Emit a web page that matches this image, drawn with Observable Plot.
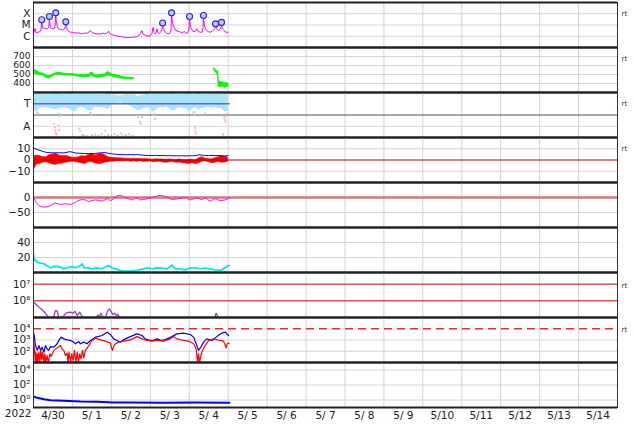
<!DOCTYPE html>
<html><head><meta charset="utf-8">
<script src="https://cdn.jsdelivr.net/npm/d3@7"></script>
<script src="https://cdn.jsdelivr.net/npm/@observablehq/plot@0.6"></script>
<style>
html,body{margin:0;padding:0;background:#fff;}
#chart{width:634px;height:424px;}
#chart svg{display:block;overflow:visible;}
</style></head><body><div id="chart"></div>
<script>
// ---- time axis: hours counted from 2022-04-30 00:00 UT ----
const startUTC = Date.UTC(2022, 3, 30);
const spanDays = 15;
const yearLabel = "2022";
const dataEndHour = 120.6;

// ---- Panel 1: GOES X-ray flux, in C-class units (1e-6 W/m2): [hour, flux] ----
const xrayReadings = [[0,1.6],[1,5],[1.5,2.2],[2,2.0],[3,2.3],[4,2.6],[4.7,4],[5.1,29],[5.5,6],[6,5],[7,5.5],[8,4.5],[9,5],[9.5,7],[9.8,57],[10.2,9],[11,5],[12,4.5],[13,5],[13.4,12],[13.7,120],[14,25],[14.5,10],[15,5.5],[16,4.2],[17,3.6],[18,3.8],[19,4.5],[19.6,7],[19.9,19],[20.3,6],[21,3.4],[22,2.6],[23,2.3],[24,2.2],[25,2.0],[26,2.1],[27,1.9],[28,2.0],[29,1.8],[30,1.7],[31,1.8],[32,2.0],[33,1.8],[34,2.2],[35,3.2],[36,2.4],[37,1.9],[38,1.7],[39,1.6],[40,1.6],[41,1.7],[42,1.6],[43,1.9],[44,1.6],[45,1.8],[46.3,2.8],[47,1.7],[48,1.4],[49,1.3],[50,1.2],[51,1.1],[52,1.0],[53,0.95],[54,0.9],[55,0.85],[56,0.8],[57,0.75],[58,0.8],[59,0.75],[60,0.8],[61,0.85],[62,0.8],[63,0.9],[64,1.0],[65,1.2],[66,1.8],[66.8,3.2],[67.5,1.6],[68,1.4],[69,1.2],[70,1.1],[71,1.0],[72,1.1],[73,1.8],[73.7,6.2],[74.3,2.2],[75,1.6],[75.6,2],[76.1,4.6],[76.6,2.2],[77.5,1.8],[78.5,2.5],[79.2,4],[79.6,15],[80,5],[81,2.6],[82,1.8],[83,1.6],[84,1.8],[84.8,4],[85.1,120],[85.5,25],[86,12],[87,5],[88,2.8],[88.4,3.5],[89,2.5],[90,2.6],[91,2.2],[92,2.0],[92.9,2.8],[94,1.8],[95,2.0],[95.8,4],[96.2,57],[96.6,10],[97,6],[98,3],[99,2.5],[100,3],[100.7,4.6],[101.3,3],[102,2.5],[103,2.2],[104,2.4],[104.5,6],[104.8,69],[105.2,12],[106,4.5],[107,3],[108,2.5],[109,2.3],[110,2.8],[111,3.5],[111.8,5],[112.2,12.6],[112.8,5],[113.5,4],[114,3.2],[115,4],[115.6,6],[115.9,17],[116.4,5],[117,4],[118,2.5],[119,2.2],[120,2.3]];
const flareHours = [5.1, 9.8, 13.7, 19.9, 79.6, 85.1, 96.2, 104.8, 112.2, 115.9];
const flareFlux  = [29, 57, 120, 19, 15, 120, 57, 69, 12.6, 17];
const xrayTicks = [1, 10, 100];
const xrayTickLabels = ["C", "M", "X"];

// ---- Panel 2: solar wind speed (km/s), envelope ----
const speedHours = [0,2,4,6,8,10,12,14,16,18,20,22,24,26,28,30,32,34,36,38,40,42,44,46,48,50,52,54,56,58,60,62,63,111.5,112,113,113.9,114.1,115,116,117,118,119,120];
const speedLo = [515,500,495,490,460,455,480,495,500,495,490,490,488,482,475,470,468,470,490,468,465,468,475,490,480,470,465,455,448,450,445,448,null,545,530,515,480,360,365,360,370,350,365,360];
const speedHi = [560,540,515,510,490,480,500,515,520,512,508,505,505,500,495,495,492,495,525,492,490,495,500,530,505,495,488,478,470,465,462,458,null,570,555,535,535,420,420,415,410,400,405,400];
const speedTicks = [400, 500, 600, 700];

// ---- Panel 3: IMF sector (angle, deg), 2-hourly envelope ----
const imfLo = [230,200,240,235,240,235,225,220,230,240,235,230,215,205,240,240,235,210,215,245,240,240,235,225,250,270,275,280,270,260,250,235,215,220,230,240,235,200,225,240,235,245,230,215,225,240,235,230,210,225,240,220,230,240,245,235,240,230,235,205,210];
const imfHi = [350,350,345,350,348,350,350,345,350,352,350,350,345,350,352,350,350,350,350,352,350,352,350,348,340,340,335,335,340,345,340,345,330,335,340,345,350,348,350,352,350,350,350,345,350,350,352,350,345,350,350,345,350,352,350,350,350,348,350,345,350];
const grayDots = [[2.3,200],[3,190],[15.6,190],[16,175],[35,200],[36,185],[30,20],[31,15],[33,12],[36,18],[38,22],[40,15],[42,25],[44,10],[46,20],[48,14],[50,28],[52,18],[54,32],[55,12],[57,20],[59,25],[61,15],[63.8,176],[64.5,160],[67,163],[74,176],[74.5,190],[98.7,203],[99.5,185],[105.8,189],[119.2,189],[118.6,170],[117,25]];
const pinkDots = [[12.8,110],[13.2,80],[13.5,55],[13.8,35],[14.2,25],[15.5,95],[15.8,60],[28.2,72],[28.8,50],[44.3,56],[65.8,125],[66.2,110],[75,149],[99.5,75],[99.8,50],[100.2,32],[117.5,160],[118,140],[118.5,125]];
const sectorTicks = [90, 270];
const sectorLabels = ["A", "T"];

// ---- Panel 4: IMF Bt and Bz (nT), 2-hourly ----
const bt = [10.5,9.5,8.5,7.5,6.8,6.5,6.4,6.4,6.5,6.3,6.6,7.4,7.0,6.2,6.0,5.9,5.7,5.8,5.6,5.8,6.2,6.4,6.6,6.0,5.6,5.2,5.0,4.8,4.7,4.7,4.8,4.6,4.8,4.5,4.2,4.1,4.0,4.0,4.1,3.9,4.0,3.8,3.9,3.7,3.8,3.7,3.8,3.6,3.8,3.7,3.9,4.6,4.3,4.0,4.0,4.1,3.9,4.0,3.8,3.6,3.9];
const bzLo = [-9.5,-4,-3.5,-2.5,-2,-3,-4,-4.3,-3.5,-3,-2.5,-2,-1.5,-1.8,-2.5,-3,-3.5,-2,-1.8,-3,-3.5,-3.5,-2.5,-2,-1.5,-1.5,-1,-1.2,-1.2,-0.8,-1.5,-1.2,-1.5,-1,-1.8,-1.5,-1.3,-2,-1.8,-1.5,-2.2,-2.5,-2,-1.8,-2.5,-2.2,-2.8,-3.2,-3.5,-2.8,-3.5,-3,-1.5,-1,-2,-2.8,-2.5,-1.8,-2.5,-2.2,-1.5];
const bzHi = [3,4,3.5,2.5,2.5,4.5,5,5.5,4,3.5,3.5,3,2,1.8,2.5,3.5,3,4.5,5.5,4,5,5.5,4.5,2.5,2,1.8,1.5,1.5,1.2,1.2,1,1.2,1,0.8,0.6,0.8,0.5,0.3,0.6,0.5,0.4,0.2,0.5,0.3,0,0.5,0,-0.3,0.2,0.3,-0.5,1.5,2.5,1.2,1,0.5,1.5,2.5,3.5,3,2];
const bTicks = [10, 0, -10];

// ---- Panel 5: Dst (nT) ----
const dstHours = [0,2.3,4.3,7.4,10.5,13.5,16.6,19.7,22.4,25.8,28.9,31,34,38.2,42.3,45.7,47.4,51.1,53.1,57.6,60.7,63.8,65.8,70,74,78.2,82.3,85.3,89.4,93.5,96.6,100.7,103.8,105.8,108.9,112,115.1,118.2,120.8];
const dstVals = [1,-21,-30,-32,-27,-19,-23,-21,-23,-16,-8,-7,-13,-8,-12,-4,-10,4,7,-2,-8,-1,-8,-4,1,7,1,-6,-4,1,-8,-1,-7,-1,-12,-4,-10,-8,-1];
const dstTicks = [0, -50];

// ---- Panel 6: solar wind density ----
const densHours = [0,0.4,1.2,2.3,4.3,6.4,8.4,10.5,12.5,14.6,16.6,18.7,20.7,23.8,25.8,28.9,29.9,31.4,34,36.1,39.2,42.3,44.9,46.4,48.4,51.1,53.5,56.6,59.7,63.8,66.9,69.9,73,76.1,79.2,82.3,85.3,87.4,90.5,93.5,96.6,99.7,102.8,105.8,108.9,112,115.1,117.1,119.2,120.6];
const densVals = [24,16,17,13.8,12.4,11.6,8.9,6.2,8,8,7.1,4.9,6.2,8,6.2,9.3,11.6,6.2,6.2,4.9,6.2,4.9,8,9.3,6.2,4.4,2.7,1.8,1.8,2.7,4.4,6.2,4.9,6.2,5.8,4.9,9.8,4.9,4.9,3.6,6.2,6.2,4.9,5.8,4.9,3.6,2.7,4.9,8,9.3];
const densTicks = [20, 40];

// ---- Panel 7: electron flux ----
const elecHours = [0,2.3,3.9,5.3,7.4,8.4,9.4,10.9,12.5,13.5,14.6,15.6,17.6,19.1,20.7,22.8,24.4,25.6,26.9,28.5,29.9,31.4,38.2,39.6,40.6,41.6,42.9,44.3,45.7,46.8,47.8,48.8,49.8,51.1,52.1,53.1,101.7,102.8,103.8,111.4,112.6,113.6,114.7,120.8];
const elecFlux = [8.3e5,5.2e5,3.8e5,2.9e5,1.8e5,1.3e5,1.05e5,8e4,1.15e5,2.6e5,2.5e5,1e5,8e4,1.5e5,2e5,2.1e5,1.8e5,2.4e5,1.3e5,2.1e5,1.2e5,8e4,8e4,1.4e5,1.15e5,1.8e5,9.5e4,9.5e4,2.6e5,3.3e5,2.4e5,1.5e5,1.8e5,1.3e5,1.6e5,8e4,8e4,1.1e5,8e4,8e4,1.8e5,1.1e5,8e4,8e4];
const elecTicks = [1e6, 1e7];

// ---- Panel 8: proton flux (blue, red) ----
const pBlueHours = [0,0.6,1.2,2.3,3.3,4.3,5.3,6.4,7.4,8.4,9.4,10.5,12.5,14.6,16.2,17,18.7,20.7,22.8,24.8,25.8,27.9,28.9,31,33,35.1,38.2,42.3,45.3,47.4,49.4,51.5,53.5,56.6,59.7,63.8,66.9,68.9,72,74.1,76.1,79.2,82.3,85.3,88.4,92.5,96.6,98.7,100.7,101.7,103.2,104.8,106.9,109.9,113,116.1,118.2,120.2];
const pBlueFlux = [5000,1800,320,120,320,120,230,83,320,160,120,260,230,460,1260,1800,1260,1020,910,650,460,740,460,650,460,910,1800,2500,5000,3100,1260,910,650,1260,2000,3500,2500,1260,910,910,1260,910,1260,2000,3500,4100,3100,1800,320,120,230,650,1260,910,2000,4100,5000,2500];
const pRedHours = [0,0.6,1,1.4,1.8,2.3,2.7,3.3,3.9,4.5,5.1,5.7,6.4,7,7.6,8.4,9.2,10.1,10.9,12.5,14.6,16.6,17.6,18.7,19.7,20.7,21.3,21.9,22.8,23.6,24.4,25.2,26.1,26.9,27.7,28.5,29.3,30.2,31,32,34.1,36.1,38.2,41.2,44.3,47.4,48.6,49.4,50.5,52.5,55.6,59.7,63.8,66.9,70,73,76.1,80.2,84.3,86.4,88.4,92.5,95.6,98.7,100.3,101.1,101.7,102.4,103.2,104.2,105.8,107.9,111,115.1,117.1,118.8,119.4,120.6];
const pRedFlux = [910,160,15,83,10,59,10,83,10,120,17,83,10,59,10,42,10,59,34,120,200,320,160,120,42,68,10,83,10,59,15,120,10,83,10,59,21,120,26,120,320,910,1450,1020,800,520,120,260,460,650,800,1020,2000,1260,910,800,910,800,1260,2000,1260,910,800,460,160,10,59,10,42,120,320,910,1260,910,800,200,460,520];
const protonTicks = [100, 1000, 10000];

// ---- Panel 9 ----
const p9Hours = [0,2.3,6.4,10.5,18.7,28.9,39.2,49.4,59.7,80.2,100.7,120.8];
const p9Vals = [2.9,1.95,1.3,0.95,0.78,0.63,0.57,0.47,0.47,0.42,0.45,0.42];
const p9Ticks = [1, 100, 10000];

// ================= drawing =================
const T = h => new Date(startUTC + h * 3600e3);
const xDomain = [T(0), T(spanDays * 24)];
const dayLines = d3.range(1, spanDays).map(d => T(d * 24));
const dayNoons = d3.range(0, spanDays).map(d => T(d * 24 + 12));
const fmtDay = d => `${d.getUTCMonth() + 1}/${String(d.getUTCDate()).padStart(2, " ")}`;
const sup = {"0":"⁰","1":"¹","2":"²","3":"³","4":"⁴","5":"⁵","6":"⁶","7":"⁷","8":"⁸","9":"⁹"};
const fmtPow = v => "10" + String(Math.round(Math.log10(v))).split("").map(c => sup[c]).join("");
const fmtSigned = v => v < 0 ? "\u2212" + Math.abs(v) : String(v);

const GRID = "#d4d4d4";

function panel({y, ticks, fmt, grid, marks, first = false, last = false, rt = null, tickFont = 10.5}) {
  const mt = first ? 2 : 0, mb = last ? 17 : 0;
  const [y0, y1] = y.domain;
  return Plot.plot({
    width: 634, height: 45 + mt + mb,
    marginLeft: 33, marginRight: 17, marginTop: mt, marginBottom: mb,
    style: {fontFamily: "'DejaVu Sans', sans-serif", fontSize: "10.5px", color: "#222", background: "transparent", overflow: "visible"},
    x: {type: "utc", domain: xDomain, axis: null},
    y: {...y, axis: null},
    marks: [
      Plot.gridX(dayLines, {stroke: GRID, strokeOpacity: 1}),
      grid && grid.length ? Plot.gridY(grid, {stroke: GRID, strokeOpacity: 1}) : null,
      ...marks,
      Plot.axisY(ticks, {tickFormat: fmt, tickSize: 0, tickPadding: 3, label: null, fontSize: tickFont}),
      last ? Plot.axisX(dayNoons, {tickFormat: fmtDay, tickSize: 0, tickPadding: 4, label: null}) : null,
      last ? Plot.text([yearLabel], {text: d => d, frameAnchor: "bottom-left", dx: -2, dy: 9, textAnchor: "end"}) : null,
      Plot.frame({stroke: "#333"}),
      Plot.ruleY([y0, y1], {stroke: "#222", strokeWidth: 2.2}),
      rt !== null ? Plot.text(["rt"], {text: d => d, frameAnchor: "top-right", dx: 4, dy: rt, textAnchor: "start", fontSize: 7, fill: "#333"}) : null
    ]
  });
}

const chart = document.getElementById("chart");

// 1 X-ray
chart.append(panel({
  first: true, rt: 9,
  y: {type: "log", domain: [0.1, 1000]},
  ticks: xrayTicks, fmt: d => xrayTickLabels[xrayTicks.indexOf(d)], grid: xrayTicks,
  marks: [
    Plot.line(xrayReadings, {x: d => T(d[0]), y: d => d[1], stroke: "#ff00ff", strokeWidth: 1, clip: true}),
    Plot.dot(flareHours, {x: d => T(d), y: (d, i) => flareFlux[i], r: 3, fill: "#c4c8ff", stroke: "#2424f0", strokeWidth: 1.1})
  ]
}));

// 2 speed
chart.append(panel({
  rt: 9, tickFont: 9,
  y: {domain: [300, 800]},
  ticks: speedTicks, fmt: d => String(d), grid: speedTicks,
  marks: [
    Plot.areaY(speedHours, {x: d => T(d), y1: (d, i) => speedLo[i], y2: (d, i) => speedHi[i], fill: "#00ff00", stroke: "#00ee00", strokeWidth: 0.8, clip: true})
  ]
}));

// 3 sector
chart.append(panel({
  rt: 9,
  y: {domain: [0, 360]},
  ticks: sectorTicks, fmt: d => sectorLabels[sectorTicks.indexOf(d)], grid: [90],
  marks: [
    Plot.ruleY([180], {stroke: "#555", strokeWidth: 1}),
    Plot.areaY(imfLo, {x: (d, i) => T(i * 2), y1: d => d, y2: (d, i) => imfHi[i], fill: "#a9e4fb", clip: true}),
    Plot.dot(grayDots, {x: d => T(d[0]), y: d => d[1], r: 1.1, fill: "#c6c6c6", clip: true}),
    Plot.dot(pinkDots, {x: d => T(d[0]), y: d => d[1], r: 1.1, fill: "#ffaaf0", clip: true}),
    Plot.line([0, dataEndHour], {x: d => T(d), y: () => 270, stroke: "#6262ee", strokeWidth: 1.5})
  ]
}));

// 4 Bt / Bz
chart.append(panel({
  rt: 9,
  y: {domain: [-20, 20]},
  ticks: bTicks, fmt: fmtSigned, grid: [10, -10],
  marks: [
    Plot.areaY(bzLo, {x: (d, i) => T(i * 2), y1: d => d, y2: (d, i) => bzHi[i], fill: "#ff0000", stroke: "#ff0000", strokeWidth: 0.6, clip: true}),
    Plot.ruleY([0], {stroke: "#c00000", strokeWidth: 1.2}),
    Plot.line(bt, {x: (d, i) => T(i * 2), y: d => d, stroke: "#0000ff", strokeWidth: 1, clip: true})
  ]
}));

// 5 Dst
chart.append(panel({
  y: {domain: [-100, 50]},
  ticks: dstTicks, fmt: fmtSigned, grid: [-50],
  marks: [
    Plot.ruleY([0], {stroke: "#d37878", strokeWidth: 2.4}),
    Plot.line(dstHours, {x: d => T(d), y: (d, i) => dstVals[i], stroke: "#ff00ff", strokeWidth: 1, curve: "monotone-x", clip: true})
  ]
}));

// 6 density
chart.append(panel({
  y: {domain: [0, 60]},
  ticks: densTicks, fmt: d => String(d), grid: densTicks,
  marks: [
    Plot.line(densHours, {x: d => T(d), y: (d, i) => densVals[i], stroke: "#00e8e8", strokeWidth: 1.8, clip: true})
  ]
}));

// 7 electrons
chart.append(panel({
  rt: 11,
  y: {type: "log", domain: [1e5, 5e7]},
  ticks: elecTicks, fmt: fmtPow, grid: [],
  marks: [
    Plot.ruleY(elecTicks, {stroke: "#cc0000", strokeWidth: 1}),
    Plot.line(elecHours, {x: d => T(d), y: (d, i) => elecFlux[i], stroke: "#9933cc", strokeWidth: 1.2, clip: true})
  ]
}));

// 8 protons
chart.append(panel({
  rt: 10,
  y: {type: "log", domain: [10, 1e5]},
  ticks: protonTicks, fmt: fmtPow, grid: [100, 1000],
  marks: [
    Plot.ruleY([1e4], {stroke: "#e03030", strokeWidth: 1.3, strokeDasharray: "8,5"}),
    Plot.line(pBlueHours, {x: d => T(d), y: (d, i) => pBlueFlux[i], stroke: "#0000ff", strokeWidth: 1.2, clip: true}),
    Plot.line(pRedHours, {x: d => T(d), y: (d, i) => pRedFlux[i], stroke: "#ff0000", strokeWidth: 1.2, clip: true})
  ]
}));

// 9
chart.append(panel({
  last: true,
  y: {type: "log", domain: [0.1, 1e5]},
  ticks: p9Ticks, fmt: fmtPow, grid: p9Ticks,
  marks: [
    Plot.line(p9Hours, {x: d => T(d), y: (d, i) => p9Vals[i], stroke: "#0000ff", strokeWidth: 2, clip: true})
  ]
}));
</script></body></html>
